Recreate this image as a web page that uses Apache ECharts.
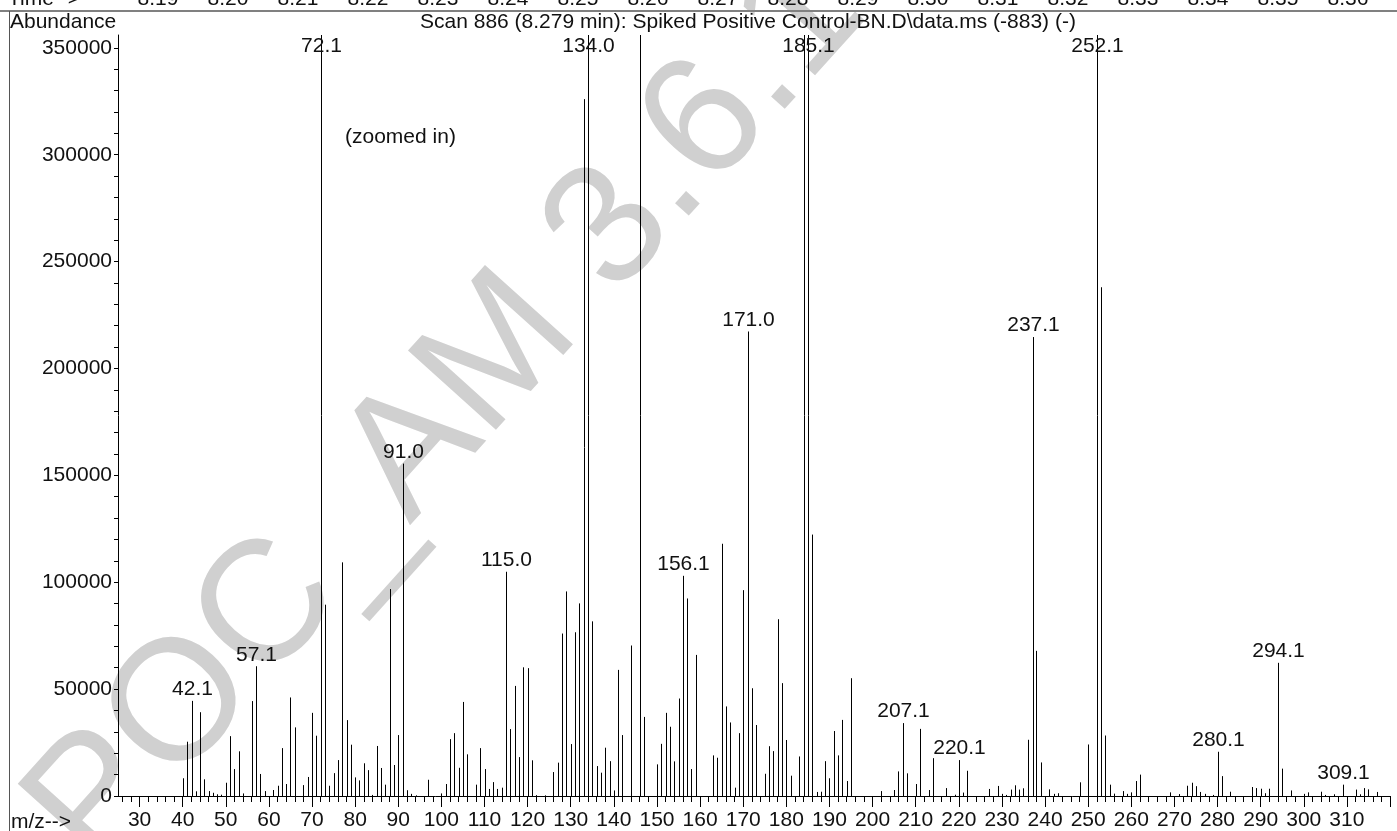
<!DOCTYPE html>
<html>
<head>
<meta charset="utf-8">
<script src="https://cdn.jsdelivr.net/npm/echarts@6/dist/echarts.min.js"></script>
<style>
html,body{margin:0;padding:0;background:#fff;}
#chart{width:1397px;height:831px;}
</style>
</head>
<body>
<div id="chart"></div>
<script>
// ---- data ----
var mzValues = [40,41,42.1,43,44,45,46,47,48,49,50,51,52,53,54,56,57.1,58,59,61,62,63,64,65,66,68,69,70,71,72.1,73,74,75,76,77,78,79,80,81,82,83,84,85,86,87,88,89,90,91.0,92,93,94,97,100,101,102,103,104,105,106,108,109,110,111,112,113,114,115.0,116,117,118,119,120,121,122,124,126,127,128,129,130,131,132,133,134.0,135,136,137,138,139,140,141,142,144,146,147,150,151,152,153,154,155,156.1,157,158,159,163,164,165,166,167,168,169,170,171.0,172,173,175,176,177,178,179,180,181,183,184,185.1,186,187,188,189,190,191,192,193,194,195,202,205,206,207.1,208,210,211,213,214,217,219,220.1,221,222,227,229,230,231,232,233,234,235,236,237.1,238,239,241,242,243,248,250,252.1,253,254,255,256,258,259,260,261,262,269,271,273,274,275,276,277,279,280.1,281,283,288,289,290,291,292,294.1,295,297,300,301,304,305,307,309.1,312,313,314,315,317];
var abundances = [8300,25400,44500,2200,39200,7800,2300,1500,800,600,6200,28000,12600,20900,1200,44400,60700,10300,2300,2800,4800,22400,5600,46100,32100,5100,8900,38900,28200,480000,89500,4800,10700,16800,109300,35500,24000,8700,7300,15300,12100,500,23400,13100,5300,96800,14500,28500,155500,2700,1000,300,7600,1200,5600,26600,29400,13200,44000,19500,5300,22400,12600,3300,6500,3300,3900,104900,31300,51500,18200,60200,59800,16700,400,300,11200,15600,76000,95700,24300,76600,90100,326000,520000,81700,14000,10900,22600,16300,2600,59000,28500,70400,410000,37000,14800,24400,38900,32400,16200,45600,103000,92400,12600,66000,19000,17900,118000,41900,34400,3900,29400,96300,217300,50400,33200,10400,23300,21000,82700,52800,26200,9500,18500,610000,700000,122300,1900,2000,16300,8300,30400,19000,35600,7000,55100,2300,2800,11500,34100,10600,5600,31400,2800,17700,3700,600,16800,1600,11800,3300,4700,1000,500,3000,5000,3000,3600,26300,214700,67900,15700,3100,1000,1300,6400,24100,560000,238000,28300,5300,1100,2300,1000,1700,7000,10000,1700,900,4800,6200,4600,1900,1000,500,20700,9300,2000,4200,3700,3400,1300,3400,62300,12800,2600,1000,1700,2000,500,800,5300,3000,800,3700,3100,1900];
var peakLabels = ["42.1","57.1","72.1","91.0","115.0","134.0","156.1","171.0","185.1","207.1","220.1","237.1","252.1","280.1","294.1","309.1"];
var xMajorTicks = [30,40,50,60,70,80,90,100,110,120,130,140,150,160,170,180,190,200,210,220,230,240,250,260,270,280,290,300,310,320];
var xTickLabels = [30,40,50,60,70,80,90,100,110,120,130,140,150,160,170,180,190,200,210,220,230,240,250,260,270,280,290,300,310];
var yTickLabels = [0,50000,100000,150000,200000,250000,300000,350000];
var timeLabels = ["8.19","8.20","8.21","8.22","8.23","8.24","8.25","8.26","8.27","8.28","8.29","8.30","8.31","8.32","8.33","8.34","8.35","8.36"];
var titleText = "Scan 886 (8.279 min): Spiked Positive Control-BN.D\\data.ms (-883) (-)";

// ---- derived helpers ----
var X_MIN = 25, X_MAX = 320, Y_MAX = 356000;
var xMinorTicks = [];
for (var t = 26; t < X_MAX; t += 2) { if (t % 10 !== 0) xMinorTicks.push(t); }
var yMinorTicks = [];
for (var v = 0; v <= 350000; v += 10000) yMinorTicks.push(v);
var timeValues = timeLabels.map(function (s) { return parseFloat(s); });
var peakData = mzValues.map(function (m, i) { return [m, abundances[i]]; });

var FONT = '"Liberation Sans", Arial, Helvetica, sans-serif';
var chart = echarts.init(document.getElementById('chart'), null, {renderer: 'canvas'});

var option = {
  animation: false,
  backgroundColor: '#fff',
  grid: [
    {left: 118, right: 7, top: 35, bottom: 34},
    {left: 118, right: 7, top: 11, height: 1}
  ],
  xAxis: [
    {
      type: 'value', gridIndex: 0, min: X_MIN, max: X_MAX,
      axisLine: {show: true, onZero: false, lineStyle: {color: '#000', width: 1}},
      axisTick: {show: true, customValues: xMajorTicks, length: 11, lineStyle: {color: '#000'}},
      axisLabel: {show: true, customValues: xTickLabels, fontSize: 21, fontFamily: FONT, color: '#111', margin: 14,
        formatter: function (val) { return String(val); }},
      splitLine: {show: false}
    },
    {
      type: 'value', gridIndex: 0, min: X_MIN, max: X_MAX, position: 'bottom',
      axisLine: {show: false},
      axisTick: {show: true, customValues: xMinorTicks, length: 6, lineStyle: {color: '#000'}},
      axisLabel: {show: false},
      splitLine: {show: false}
    },
    {
      type: 'value', gridIndex: 1, position: 'top',
      min: 8.19 - 40 / 7000, max: 8.19 + 1232 / 7000,
      axisLine: {show: false}, axisTick: {show: false},
      axisLabel: {show: true, customValues: timeValues, fontSize: 21, fontFamily: FONT, color: '#111', margin: 2,
        formatter: function (val) { return val.toFixed(2); }},
      splitLine: {show: false}
    }
  ],
  yAxis: [
    {
      type: 'value', gridIndex: 0, min: 0, max: Y_MAX,
      axisLine: {show: true, lineStyle: {color: '#000', width: 1}},
      axisTick: {show: true, customValues: yMinorTicks, length: 4, lineStyle: {color: '#000'}},
      axisLabel: {show: true, customValues: yTickLabels, fontSize: 21, fontFamily: FONT, color: '#111', margin: 6,
        formatter: function (val) { return String(val); }},
      splitLine: {show: false}
    },
    {type: 'value', gridIndex: 1, show: false, min: 0, max: 1}
  ],
  graphic: {
    elements: [
      {type: 'text', z: -10, x: 448, y: 412, rotation: 48 * Math.PI / 180,
        style: {text: 'POC_AM 3.6.1', font: '172px ' + FONT, fill: '#d0d0d0', align: 'center', verticalAlign: 'middle'}},
      {type: 'line', shape: {x1: 0, y1: 11, x2: 1397, y2: 11}, style: {stroke: '#808080', lineWidth: 2}},
      {type: 'line', shape: {x1: 9.5, y1: 11, x2: 9.5, y2: 831}, style: {stroke: '#555', lineWidth: 1}},
      {type: 'text', x: 8, y: -1, style: {text: 'Time-->', font: '21px ' + FONT, fill: '#111', align: 'left', verticalAlign: 'middle'}},
      {type: 'text', x: 10, y: 22, style: {text: 'Abundance', font: '21px ' + FONT, fill: '#111', align: 'left', verticalAlign: 'middle'}},
      {type: 'text', x: 420, y: 22, style: {text: titleText, font: '21px ' + FONT, fill: '#111', align: 'left', verticalAlign: 'middle'}},
      {type: 'text', x: 345, y: 137, style: {text: '(zoomed in)', font: '21px ' + FONT, fill: '#111', align: 'left', verticalAlign: 'middle'}},
      {type: 'text', x: 11, y: 822, style: {text: 'm/z-->', font: '21px ' + FONT, fill: '#111', align: 'left', verticalAlign: 'middle'}}
    ]
  },
  series: [{
    type: 'custom',
    xAxisIndex: 0, yAxisIndex: 0,
    clip: true,
    data: peakData,
    encode: {x: 0, y: 1},
    renderItem: function (params, api) {
      var mz = api.value(0), ab = api.value(1);
      var base = api.coord([mz, 0]);
      var top = api.coord([mz, Math.min(ab, Y_MAX)]);
      var x = Math.round(base[0]) + 0.5;
      var children = [{
        type: 'line',
        shape: {x1: x, y1: base[1], x2: x, y2: top[1]},
        style: {stroke: '#000', lineWidth: 1}
      }];
      var key = mz.toFixed(1);
      if (peakLabels.indexOf(key) >= 0) {
        var gTop = params.coordSys.y;
        var ly = Math.max(top[1] - 11.5, gTop + 11.5);
        children.push({
          type: 'text',
          style: {text: key, x: x, y: ly, align: 'center', verticalAlign: 'middle', font: '21px ' + FONT, fill: '#111'}
        });
      }
      return {type: 'group', children: children};
    }
  }]
};
chart.setOption(option);
</script>
</body>
</html>
